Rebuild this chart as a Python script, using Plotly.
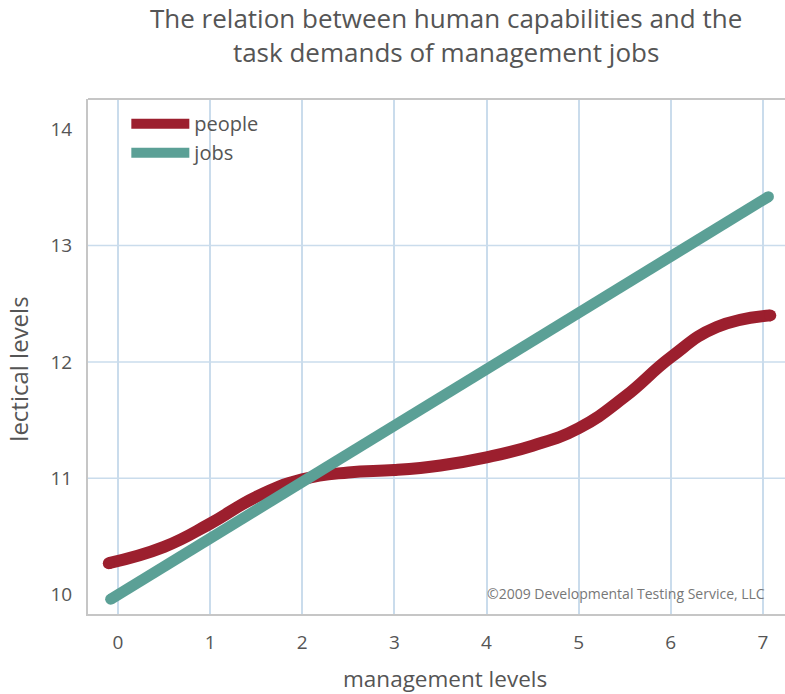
import plotly.graph_objects as go

# data
people_x = [-0.1, 0.5, 1, 1.5, 2, 2.5, 3, 3.5, 4, 4.5, 5, 5.5, 6, 6.5, 7.08]
people_y = [10.27, 10.41, 10.61, 10.84, 10.99, 11.05, 11.07, 11.11, 11.18, 11.28, 11.43, 11.70, 12.04, 12.30, 12.40]
jobs_x = [-0.08, 7.06]
jobs_y = [9.96, 13.42]
x_ticks = [0, 1, 2, 3, 4, 5, 6, 7]
y_ticks = [10, 11, 12, 13, 14]
y_grid = [11, 12, 13]

RED = "#9c1f2e"
TEAL = "#5ba096"
GRID = "#cadcec"
AXIS = "#c6c6c6"
TXT = "#555555"
FONT = "Open Sans"

fig = go.Figure()
fig.add_trace(go.Scatter(x=people_x, y=people_y, mode="lines", name="people",
                         line=dict(color=RED, width=12, shape="spline", smoothing=1.3)))
fig.add_trace(go.Scatter(x=jobs_x, y=jobs_y, mode="lines", name="jobs",
                         line=dict(color=TEAL, width=11)))
# rounded line ends
fig.add_trace(go.Scatter(x=[people_x[0], people_x[-1]], y=[people_y[0], people_y[-1]], mode="markers",
                         showlegend=False, hoverinfo="skip",
                         marker=dict(color=RED, size=12, opacity=1, line=dict(width=0))))
fig.add_trace(go.Scatter(x=[jobs_x[0], jobs_x[-1]], y=[jobs_y[0], jobs_y[-1]], mode="markers",
                         showlegend=False, hoverinfo="skip",
                         marker=dict(color=TEAL, size=11, opacity=1, line=dict(width=0))))

shapes = []
for g in y_grid:
    shapes.append(dict(type="line", xref="paper", x0=0, x1=1, yref="y", y0=g, y1=g,
                       line=dict(color=GRID, width=1.5), layer="below"))
shapes.append(dict(type="line", xref="paper", x0=0, x1=1, yref="paper", y0=1, y1=1,
                   line=dict(color=AXIS, width=2)))

fig.update_layout(
    width=785, height=694,
    margin=dict(l=88, r=0, t=99, b=80),
    paper_bgcolor="white", plot_bgcolor="white",
    font=dict(family=FONT, color=TXT),
    showlegend=True,
    xaxis=dict(range=[-0.326, 7.24], tickvals=x_ticks, showgrid=True, gridcolor=GRID, gridwidth=1.5,
               zeroline=False, showline=True, linecolor=AXIS, linewidth=2,
               ticks="", ticklabelstandoff=10, tickfont=dict(size=19, color=TXT, family=FONT)),
    yaxis=dict(range=[9.833, 14.26], tickvals=y_ticks, showgrid=False, zeroline=False,
               showline=True, linecolor=AXIS, linewidth=2,
               ticks="", ticklabelstandoff=10, tickfont=dict(size=19, color=TXT, family=FONT)),
    legend=dict(x=0.055, y=0.99, xanchor="left", yanchor="top", bgcolor="rgba(0,0,0,0)",
                font=dict(size=20, color=TXT, family=FONT), itemwidth=58, tracegroupgap=0),
    shapes=shapes,
    annotations=[
        dict(text="The relation between human capabilities and the<br>task demands of management jobs",
             xref="paper", yref="paper", x=0.514, y=1.125, xanchor="center", yanchor="middle",
             showarrow=False, font=dict(size=26, color=TXT, family=FONT)),
        dict(text="management levels", xref="paper", yref="paper", x=0.512, y=-0.126,
             xanchor="center", yanchor="middle", showarrow=False, font=dict(size=22.5, color=TXT, family=FONT)),
        dict(text="lectical levels", xref="paper", yref="paper", x=-0.1, y=0.475, textangle=-90,
             xanchor="center", yanchor="middle", showarrow=False, font=dict(size=24, color=TXT, family=FONT)),
        dict(text="©2009 Developmental Testing Service, LLC", xref="paper", yref="paper", x=0.974, y=0.04,
             xanchor="right", yanchor="middle", showarrow=False, font=dict(size=14, color="#777777", family=FONT)),
    ],
)

fig.write_html("out.html", config={"displayModeBar": False},
               post_script="document.body.style.margin='0';document.body.style.overflow='hidden';")
